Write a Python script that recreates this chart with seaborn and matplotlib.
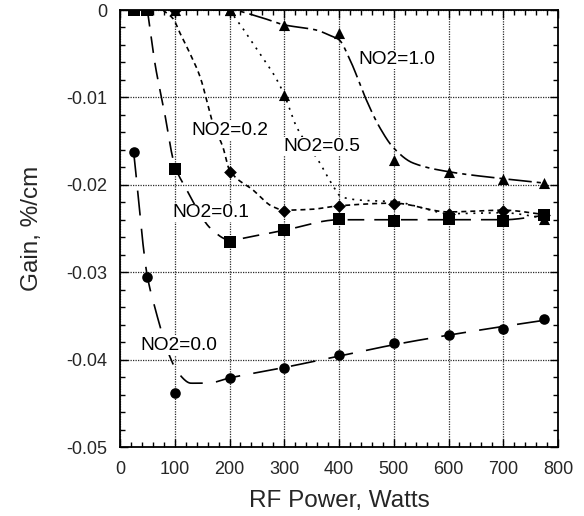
import numpy as np
import pandas as pd
import matplotlib
matplotlib.use("Agg")
import matplotlib.pyplot as plt
from matplotlib.ticker import MultipleLocator, FixedLocator, FixedFormatter
import seaborn as sns

# ---- measured points (RF power in W, gain in %/cm) ----
x_00 = [25, 50, 100, 200, 300, 400, 500, 600, 700, 775]
y_00 = [-0.0163, -0.0305, -0.0438, -0.0421, -0.0410, -0.0395, -0.0381, -0.0372, -0.0365, -0.0354]

x_01 = [25, 50, 100, 200, 300, 400, 500, 600, 700, 775]
y_01 = [0.0, 0.0, -0.0182, -0.0265, -0.0252, -0.0239, -0.0241, -0.0239, -0.0241, -0.0234]

x_02 = [100, 200, 300, 400, 500, 600, 700, 775]
y_02 = [0.0, -0.0185, -0.0230, -0.0224, -0.0222, -0.0233, -0.0230, -0.0234]

x_05 = [200, 300, 600, 775]
y_05 = [0.0, -0.0097, -0.0233, -0.0239]

x_10 = [100, 200, 300, 400, 500, 600, 700, 775]
y_10 = [0.0, 0.0, -0.0017, -0.0026, -0.0172, -0.0185, -0.0193, -0.0198]

# ---- fitted trend curves (knots of each smooth fit) ----
fx_00 = [25, 50, 64, 75, 90, 106, 130, 160, 200, 300, 400, 500, 600, 700, 775]
fy_00 = [-0.0163, -0.0305, -0.0341, -0.0366, -0.0395, -0.0415, -0.0427, -0.0427, -0.0421,
         -0.0409, -0.0396, -0.0383, -0.0372, -0.0362, -0.0355]

fx_01 = [50, 64, 80, 100, 122, 145, 164, 200, 250, 300, 400, 500, 600, 700, 775]
fy_01 = [0.0, -0.0062, -0.0113, -0.0178, -0.0206, -0.0232, -0.0249, -0.0263, -0.0258,
         -0.0252, -0.0240, -0.0240, -0.0240, -0.0240, -0.0235]

fx_02 = [78, 97, 110, 128, 146, 170, 188, 200, 243, 279, 300, 350, 400, 500, 600, 700, 775]
fy_02 = [0.0, -0.0010, -0.0027, -0.0050, -0.0076, -0.0130, -0.0157, -0.0183, -0.0206,
         -0.0225, -0.0229, -0.0228, -0.0224, -0.0221, -0.0231, -0.0229, -0.0234]

fx_05 = [200, 222, 249, 261, 283, 300, 322, 365, 386, 405, 450, 500, 550, 600, 700, 775]
fy_05 = [0.0, -0.0019, -0.0044, -0.0055, -0.0076, -0.0097, -0.0133, -0.0175, -0.0198,
         -0.0214, -0.0218, -0.0219, -0.0226, -0.0233, -0.0232, -0.0238]

fx_10 = [100, 200, 255, 300, 359, 383, 400, 420, 450, 474, 500, 535, 600, 700, 775]
fy_10 = [0.0, 0.0, -0.0008, -0.0017, -0.0023, -0.0029, -0.0034, -0.0057, -0.0103,
         -0.0134, -0.0158, -0.0175, -0.0185, -0.0193, -0.0198]

# ---- labels ----
lab_text = ["NO2=0.0", "NO2=0.1", "NO2=0.2", "NO2=0.5", "NO2=1.0"]
lab_x = [38, 95, 130, 298, 436]
lab_y = [-0.0384, -0.0232, -0.0138, -0.0156, -0.0057]

x_ticks = [0, 100, 200, 300, 400, 500, 600, 700, 800]
y_ticks = [-0.05, -0.04, -0.03, -0.02, -0.01, 0.0]
y_tick_labels = ["-0.05", "-0.04", "-0.03", "-0.02", "-0.01", "0"]


def pchip(x, y, xs):
    """Monotone piecewise cubic Hermite interpolation."""
    x = np.asarray(x, float)
    y = np.asarray(y, float)
    h = np.diff(x)
    d = np.diff(y) / h
    n = len(x)
    m = np.zeros(n)
    m[0] = d[0]
    m[-1] = d[-1]
    for k in range(1, n - 1):
        if d[k - 1] * d[k] <= 0:
            m[k] = 0.0
        else:
            w1 = 2 * h[k] + h[k - 1]
            w2 = h[k] + 2 * h[k - 1]
            m[k] = (w1 + w2) / (w1 / d[k - 1] + w2 / d[k])
    idx = np.clip(np.searchsorted(x, xs) - 1, 0, n - 2)
    t = (xs - x[idx]) / h[idx]
    h00 = 2 * t**3 - 3 * t**2 + 1
    h10 = t**3 - 2 * t**2 + t
    h01 = -2 * t**3 + 3 * t**2
    h11 = t**3 - t**2
    return h00 * y[idx] + h10 * h[idx] * m[idx] + h01 * y[idx + 1] + h11 * h[idx] * m[idx + 1]


sns.set_theme(style="ticks")
plt.rcParams["font.family"] = ["Liberation Sans", "DejaVu Sans"]

fig = plt.figure(figsize=(5.84, 5.16), dpi=100)
ax = fig.add_axes([0.2055, 0.1337, 0.75, 0.8469])

lw = 1.2
curves = [
    (fx_00, fy_00, (0, (15, 8))),
    (fx_01, fy_01, (0, (10, 6))),
    (fx_02, fy_02, (0, (3, 2.4))),
    (fx_05, fy_05, (0, (1.2, 3.4))),
    (fx_10, fy_10, (0, (14, 3, 2.5, 3))),
]
for fx, fy, ls in curves:
    xs = np.linspace(fx[0], fx[-1], 400)
    df = pd.DataFrame({"x": xs, "y": pchip(fx, fy, xs)})
    sns.lineplot(data=df, x="x", y="y", ax=ax, color="black", lw=lw,
                 linestyle=ls, estimator=None, sort=False, zorder=3)

markers = [
    (x_05, y_05, "^", 64),
    (x_10, y_10, "^", 64),
    (x_02, y_02, "D", 42),
    (x_01, y_01, "s", 76),
    (x_00, y_00, "o", 58),
]
for mx, my, mk, sz in markers:
    sns.scatterplot(x=mx, y=my, ax=ax, marker=mk, s=sz, color="black",
                    edgecolor="black", linewidth=0, zorder=4)

for t, tx, ty in zip(lab_text, lab_x, lab_y):
    ax.text(tx, ty, t, fontsize=13.8, ha="left", va="center", color="black", zorder=5,
            bbox=dict(facecolor="white", edgecolor="none", pad=0.5))

ax.set_xlim(0, 800)
ax.set_ylim(-0.05, 0.0)
ax.xaxis.set_major_locator(FixedLocator(x_ticks))
ax.set_xticklabels([str(v) for v in x_ticks])
ax.yaxis.set_major_locator(FixedLocator(y_ticks))
ax.yaxis.set_major_formatter(FixedFormatter(y_tick_labels))
ax.xaxis.set_minor_locator(MultipleLocator(20))
ax.yaxis.set_minor_locator(MultipleLocator(0.002))

ax.grid(True, which="major", color="#2a2a2a", lw=0.9, linestyle=(0, (1, 1)), zorder=1)
ax.set_axisbelow(True)

ax.tick_params(which="both", direction="in", top=True, right=True, color="black")
ax.tick_params(axis="x", which="major", pad=10)
ax.tick_params(axis="y", which="major", pad=9)
ax.tick_params(which="major", length=6, width=1.0, labelsize=13)
ax.tick_params(which="minor", length=3.5, width=1.0)
for s in ax.spines.values():
    s.set_color("black")
    s.set_linewidth(1.3)

ax.set_xlabel("RF Power, Watts", fontsize=17.5, labelpad=9)
ax.set_ylabel("Gain, %/cm", fontsize=17.5, labelpad=17)

fig.savefig("out.png", dpi=100, facecolor="white")
